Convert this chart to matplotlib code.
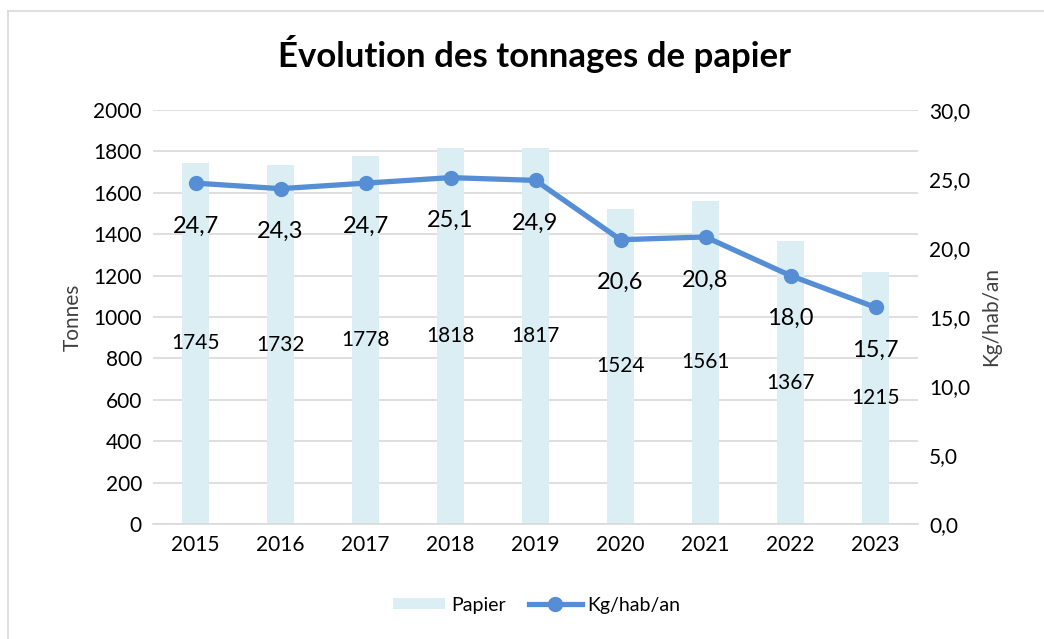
import numpy as np
import matplotlib
matplotlib.use("Agg")
from matplotlib import pyplot as plt
from matplotlib.lines import Line2D

plt.rcParams['font.family'] = ['Lato', 'DejaVu Sans']

years = ['2015', '2016', '2017', '2018', '2019', '2020', '2021', '2022', '2023']
papier = [1745, 1732, 1778, 1818, 1817, 1524, 1561, 1367, 1215]
kg_hab = [24.7, 24.3, 24.7, 25.1, 24.9, 20.6, 20.8, 18.0, 15.7]

bar_col = '#DAEEF3'
line_col = '#558ED5'

fig = plt.figure(figsize=(10.44, 6.39), dpi=100)
ax = fig.add_axes([153 / 1044, 1 - 524 / 639, (918 - 153) / 1044, (524 - 110) / 639])
ax2 = ax.twinx()

x = np.arange(len(years))
ax.bar(x, papier, width=0.32, color=bar_col, zorder=2, label='Papier')
ax.set_ylim(0, 2000)
ax.set_yticks(range(0, 2001, 200))
ax.set_xlim(-0.5, len(years) - 0.5)
ax.set_xticks(x)
ax.set_xticklabels(years)
ax.grid(axis='y', color='#D9D9D9', lw=1.2, zorder=0)
ax.set_axisbelow(True)
for s in ['top', 'right', 'left']:
    ax.spines[s].set_visible(False)
ax.spines['bottom'].set_color('#D9D9D9')
ax.spines['bottom'].set_linewidth(1.2)
ax.tick_params(length=0, labelsize=15, pad=8)
ax.set_ylabel('Tonnes', fontsize=15, color='#404040', labelpad=8)

for xi, v in zip(x, papier):
    ax.text(xi, v / 2, str(v), ha='center', va='center', fontsize=15, zorder=5)

ax2.plot(x, kg_hab, color=line_col, lw=3.8, marker='o', ms=10, zorder=4, label='Kg/hab/an')
ax2.set_ylim(0, 30)
ax2.set_yticks(range(0, 31, 5))
ax2.set_yticklabels([f'{v},0' for v in range(0, 31, 5)])
for s in ['top', 'right', 'left', 'bottom']:
    ax2.spines[s].set_visible(False)
ax2.tick_params(length=0, labelsize=15, pad=8)
ax2.set_ylabel('Kg/hab/an', fontsize=15, color='#404040', labelpad=8)

for xi, v in zip(x, kg_hab):
    ax2.annotate(f'{v:.1f}'.replace('.', ','), (xi, v), xytext=(0, -31),
                 textcoords='offset points', ha='center', va='center', fontsize=17)

fig.suptitle('Évolution des tonnages de papier', fontsize=25, fontweight='bold',
             x=0.512, y=0.945)

h1, l1 = ax.get_legend_handles_labels()
h2, l2 = ax2.get_legend_handles_labels()
fig.legend(h1 + h2, l1 + l2, loc='center', bbox_to_anchor=(0.514, 1 - 605 / 639),
           ncol=2, frameon=False, fontsize=14, handlelength=2.7, handleheight=0.45,
           handletextpad=0.3, columnspacing=1.2, borderpad=0)

# chart frame (only left and top edges are visible in the crop)
fig.add_artist(Line2D([8 / 1044, 8 / 1044], [0, 1 - 11 / 639], transform=fig.transFigure,
                      color='#D9D9D9', lw=1.2))
fig.add_artist(Line2D([8 / 1044, 1], [1 - 11 / 639, 1 - 11 / 639], transform=fig.transFigure,
                      color='#D9D9D9', lw=1.2))

fig.savefig('out.png', dpi=100)
